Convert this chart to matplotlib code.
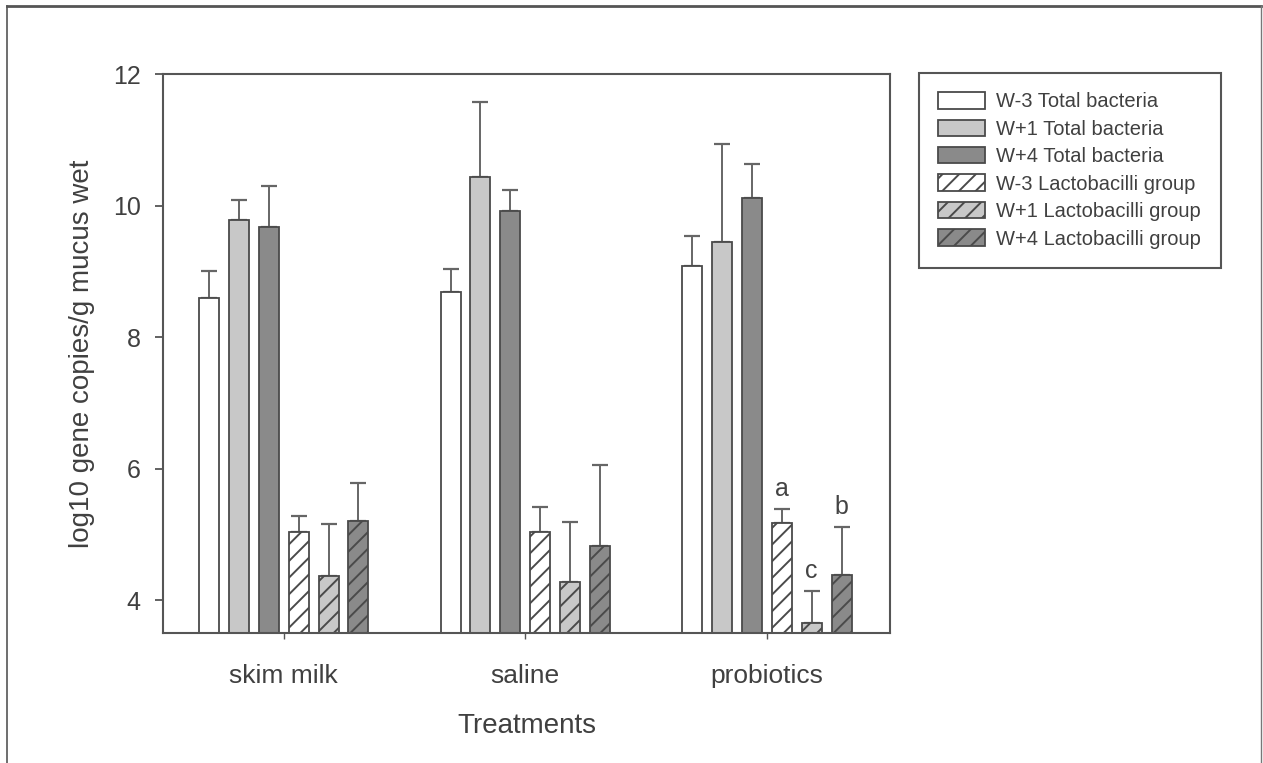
import numpy as np
import matplotlib
matplotlib.use("Agg")
import matplotlib.pyplot as plt
from matplotlib.lines import Line2D

plt.rcParams['font.family'] = ['Liberation Sans', 'DejaVu Sans']
plt.rcParams['hatch.linewidth'] = 1.4

# data
treatments = ['skim milk', 'saline', 'probiotics']
series = ['W-3 Total bacteria', 'W+1 Total bacteria', 'W+4 Total bacteria',
          'W-3 Lactobacilli group', 'W+1 Lactobacilli group', 'W+4 Lactobacilli group']

w3_total = [8.59, 8.69, 9.08]
w1_total = [9.78, 10.44, 9.44]
w4_total = [9.67, 9.91, 10.12]
w3_lacto = [5.04, 5.03, 5.17]
w1_lacto = [4.36, 4.27, 3.65]
w4_lacto = [5.21, 4.83, 4.38]

w3_total_err = [0.42, 0.34, 0.45]
w1_total_err = [0.30, 1.14, 1.49]
w4_total_err = [0.63, 0.32, 0.51]
w3_lacto_err = [0.24, 0.39, 0.22]
w1_lacto_err = [0.79, 0.92, 0.49]
w4_lacto_err = [0.57, 1.22, 0.73]

# significance letters on the probiotics lactobacilli bars
letters = ['a', 'c', 'b']

means = [w3_total, w1_total, w4_total, w3_lacto, w1_lacto, w4_lacto]
errs = [w3_total_err, w1_total_err, w4_total_err, w3_lacto_err, w1_lacto_err, w4_lacto_err]
colors = ['white', '#c8c8c8', '#8a8a8a', 'white', '#c8c8c8', '#8a8a8a']
hatches = [None, None, None, '//', '//', '//']

fig = plt.figure(figsize=(12.63, 7.63), dpi=100)
ax = fig.add_axes([0.129, 0.1704, 0.5757, 0.7326])

x = np.arange(len(treatments))
step = 0.1237
width = 0.083
edge = '#4a4a4a'
for i in range(6):
    pos = x + (i - 2.5) * step
    ax.bar(pos, means[i], width, color=colors[i], edgecolor=edge, linewidth=1.3,
           hatch=hatches[i], label=series[i], zorder=2)
    ax.errorbar(pos, means[i], yerr=[np.zeros(3), errs[i]], fmt='none',
                ecolor='#666666', elinewidth=1.4, capsize=6, capthick=1.6, zorder=1)

# letters above probiotics lactobacilli bars
for k, i in enumerate([3, 4, 5]):
    pos = x[2] + (i - 2.5) * step
    top = means[i][2] + errs[i][2]
    ax.text(pos, top + 0.12, letters[k], ha='center', va='bottom', fontsize=18, color='#444444')

ax.set_xlim(-0.5, 2.51)
ax.set_ylim(3.5, 12)
ax.set_yticks([4, 6, 8, 10, 12])
ax.set_xticks(x)
ax.set_xticklabels(treatments)

for s in ax.spines.values():
    s.set_color('#555555')
    s.set_linewidth(1.5)

ax.tick_params(axis='y', direction='out', length=6, width=1.3, color='#555555',
               labelsize=18, labelcolor='#404040', pad=10)
ax.tick_params(axis='x', direction='out', length=4, width=1.0, color='#555555',
               labelsize=19, labelcolor='#404040', pad=18)

ax.set_xlabel('Treatments', fontsize=20, color='#404040', labelpad=18)
ax.set_ylabel('log10 gene copies/g mucus wet', fontsize=20, color='#404040', labelpad=13)

leg = ax.legend(loc='upper left', bbox_to_anchor=(0.7276, 0.9043),
                bbox_transform=fig.transFigure, borderaxespad=0,
                fancybox=False, framealpha=1, edgecolor='#555555',
                fontsize=14.5, handlelength=2.35, handleheight=0.88,
                labelspacing=0.41, borderpad=0.95, handletextpad=0.55)
leg.get_frame().set_linewidth(1.5)
for t in leg.get_texts():
    t.set_color('#404040')

# outer frame of the figure panel (top, left, right)
fig.add_artist(Line2D([7 / 1263, 1261 / 1263], [1 - 6 / 763, 1 - 6 / 763],
                      transform=fig.transFigure, color='#555555', linewidth=2))
fig.add_artist(Line2D([7 / 1263, 7 / 1263], [0, 1 - 6 / 763],
                      transform=fig.transFigure, color='#555555', linewidth=1.2))
fig.add_artist(Line2D([1261 / 1263, 1261 / 1263], [0, 1 - 6 / 763],
                      transform=fig.transFigure, color='#777777', linewidth=1.0))

fig.savefig('out.png', dpi=100)
